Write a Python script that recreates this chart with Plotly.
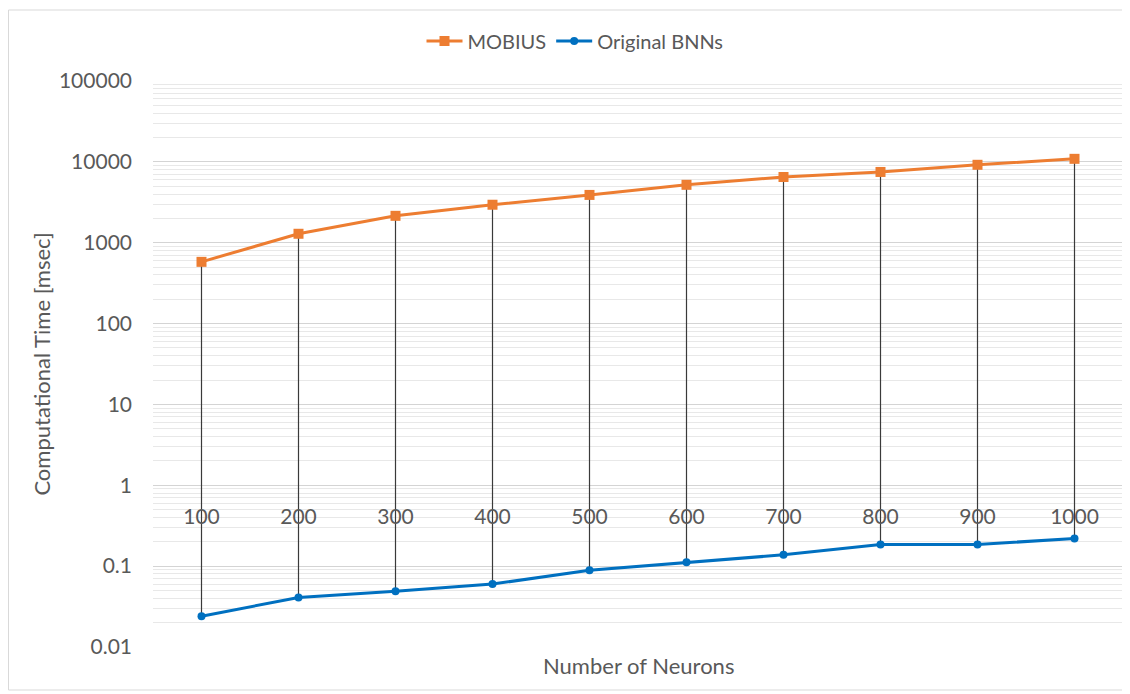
import plotly.graph_objects as go

categories = ["100", "200", "300", "400", "500", "600", "700", "800", "900", "1000"]
mobius = [580, 1290, 2150, 2950, 3900, 5200, 6500, 7500, 9200, 10900]
original_bnns = [0.024, 0.041, 0.049, 0.060, 0.089, 0.112, 0.138, 0.185, 0.185, 0.22]
y_tick_vals = [0.01, 0.1, 1, 10, 100, 1000, 10000, 100000]
y_tick_text = ["0.01", "0.1", "1", "10", "100", "1000", "10000", "100000"]

FONT = "Lato, Calibri, Open Sans, sans-serif"
TXT = "#595959"

# page has an 8px body margin; figure sized to fit the 1130x694 window
W, H = 1122, 686
ML, MR, MT, MB = 145, 7, 73, 47
PW, PH = W - ML - MR, H - MT - MB

# drop lines between the two series
drop_x, drop_y = [], []
for c, hi, lo in zip(categories, mobius, original_bnns):
    drop_x += [c, c, None]
    drop_y += [hi, lo, None]

fig = go.Figure()
fig.add_trace(go.Scatter(
    x=drop_x, y=drop_y, mode="lines",
    line=dict(color="#3a3a3a", width=1.2), showlegend=False, hoverinfo="skip"))
fig.add_trace(go.Scatter(
    x=categories, y=mobius, name="MOBIUS", mode="lines+markers",
    line=dict(color="#ED7D31", width=3),
    marker=dict(symbol="square", size=10, color="#ED7D31")))
fig.add_trace(go.Scatter(
    x=categories, y=original_bnns, name="Original BNNs", mode="lines+markers",
    line=dict(color="#0070C0", width=3),
    marker=dict(symbol="circle", size=8, color="#0070C0")))

fig.update_layout(
    width=W, height=H,
    margin=dict(l=ML, r=MR, t=MT, b=MB),
    paper_bgcolor="white", plot_bgcolor="white",
    font=dict(family=FONT, size=19, color=TXT),
    legend=dict(orientation="h", x=(567 - 145) / PW, xanchor="center",
                y=1 + (MT - 33) / PH, yanchor="middle",
                font=dict(size=20, color=TXT), itemwidth=36, traceorder="normal"),
    xaxis=dict(
        type="category", range=[-0.5, len(categories) - 0.5],
        anchor="free", position=2/7,
        showline=False, ticks="", showgrid=False, zeroline=False,
        tickfont=dict(size=21, color=TXT), ticklabelstandoff=17),
    yaxis=dict(
        type="log", range=[-2, 5], tickvals=y_tick_vals, ticktext=y_tick_text,
        showline=False, ticks="", ticklabelstandoff=20,
        showgrid=True, gridcolor="#d4d4d4", gridwidth=1.3, zeroline=False,
        minor=dict(dtick="D1", showgrid=True, gridcolor="#e8e8e8", gridwidth=1, ticks=""),
        tickfont=dict(size=21, color=TXT),
        title=dict(text="Computational Time [msec]", font=dict(size=22, color=TXT), standoff=2)),
    shapes=[dict(type="rect", xref="paper", yref="paper",
                 x0=(0.5 - ML) / PW, x1=(W - 6 - ML) / PW,
                 y0=-(682 - (H - MB)) / PH, y1=1 + (MT - 2) / PH,
                 line=dict(color="#d9d9d9", width=1), fillcolor="rgba(0,0,0,0)", layer="below")],
    annotations=[dict(text="Number of Neurons", xref="paper", yref="paper",
                      x=0.5, y=-(657 - (H - MB)) / PH, yanchor="middle", showarrow=False,
                      font=dict(size=22, color=TXT))],
)

fig.write_html("out.html")
